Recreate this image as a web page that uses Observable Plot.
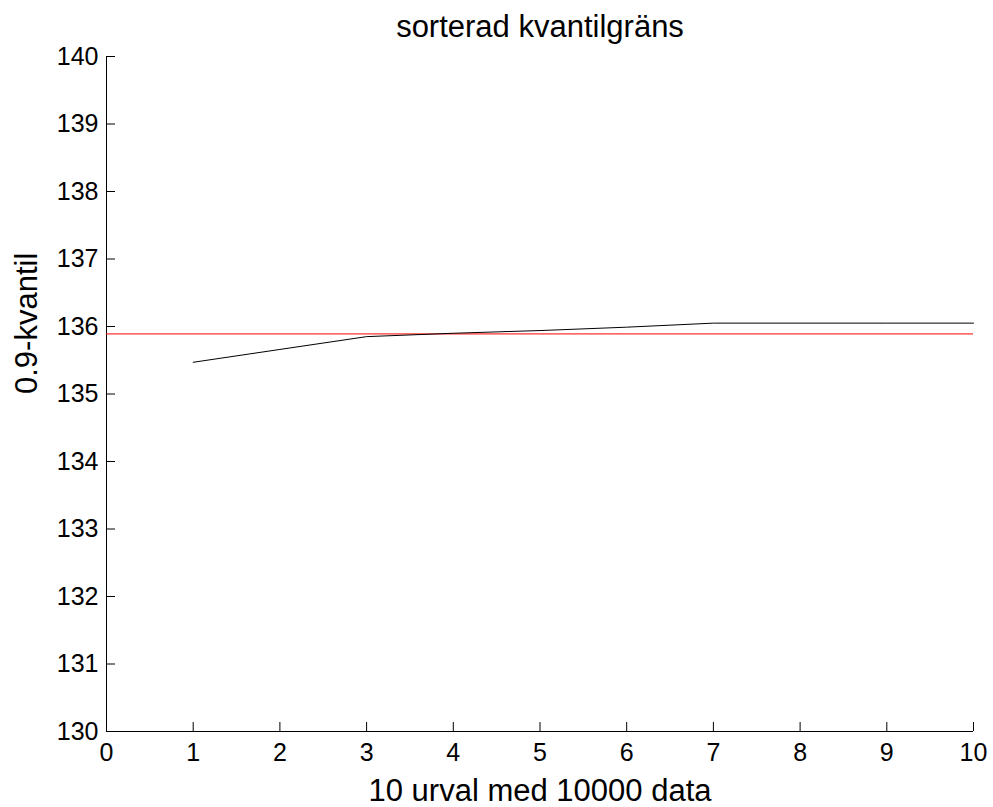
<!DOCTYPE html>
<html>
<head>
<meta charset="utf-8">
<script src="https://cdn.jsdelivr.net/npm/d3@7"></script>
<script src="https://cdn.jsdelivr.net/npm/@observablehq/plot@0.6"></script>
<style>
  html, body { margin: 0; padding: 0; background: #fff; }
</style>
</head>
<body>
<div id="chart"></div>
<script>
const titleText = "sorterad kvantilgräns";
const xLabelText = "10 urval med 10000 data";
const yLabelText = "0.9-kvantil";

const sampleIndex = [1, 2, 3, 4, 5, 6, 7, 8, 9, 10];
const quantileValues = [135.47, 135.66, 135.85, 135.90, 135.94, 135.99, 136.05, 136.05, 136.05, 136.05];
const referenceQuantile = [135.89];

const xTicks = [0, 1, 2, 3, 4, 5, 6, 7, 8, 9, 10];
const yTicks = [130, 131, 132, 133, 134, 135, 136, 137, 138, 139, 140];

const data = sampleIndex.map((x, i) => ({x, y: quantileValues[i]}));

const font = "'Liberation Sans', Arial, Helvetica, sans-serif";

const chart = Plot.plot({
  width: 993,
  height: 807,
  marginLeft: 106,
  marginRight: 20,
  marginTop: 56,
  marginBottom: 76,
  style: {fontFamily: font, fontSize: "25px", background: "#fff", color: "#000"},
  x: {domain: [0, 10]},
  y: {domain: [130, 140]},
  marks: [
    Plot.axisX(xTicks, {anchor: "bottom", tickSize: -9, tickPadding: 21, label: null, tickFormat: d => String(d)}),
    Plot.axisY(yTicks, {anchor: "left", tickSize: -9, tickPadding: 17, label: null, tickFormat: d => String(d)}),
    Plot.ruleY([130], {stroke: "#000", strokeWidth: 1}),
    Plot.ruleX([0], {stroke: "#000", strokeWidth: 1}),
    Plot.ruleY(referenceQuantile, {stroke: "#ff0000", strokeWidth: 1}),
    Plot.line(data, {x: "x", y: "y", stroke: "#000", strokeWidth: 1}),
    Plot.text([titleText], {frameAnchor: "top", lineAnchor: "bottom", dy: -20, fontSize: 31, fill: "#000"}),
    Plot.text([xLabelText], {frameAnchor: "bottom", lineAnchor: "bottom", dy: 69, fontSize: 31, fill: "#000"}),
    Plot.text([yLabelText], {frameAnchor: "left", lineAnchor: "bottom", rotate: -90, dx: -70, fontSize: 31, fill: "#000"})
  ]
});
document.getElementById("chart").appendChild(chart);
</script>
</body>
</html>
